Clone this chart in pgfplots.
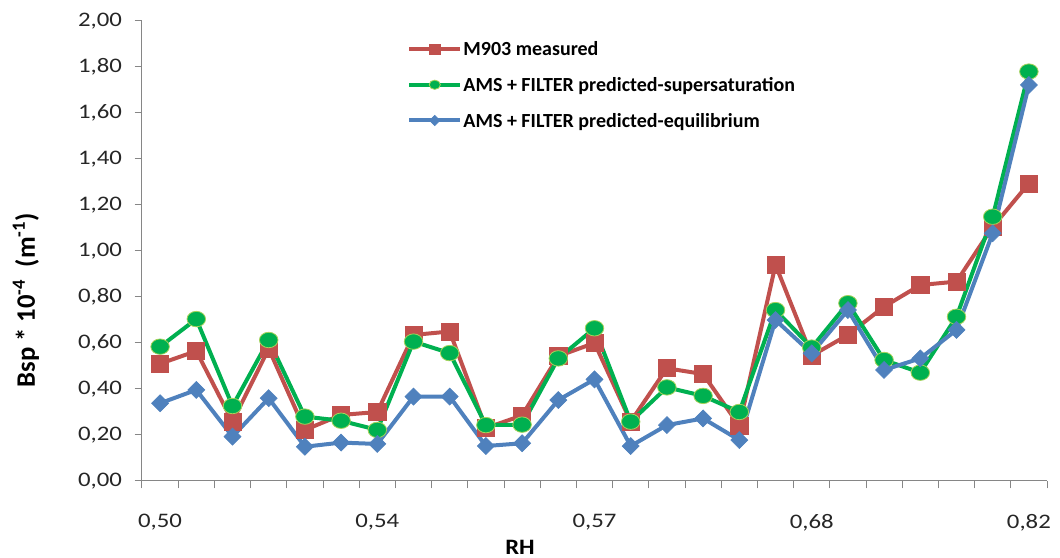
\documentclass[border=0pt]{standalone}
\usepackage{pgfplots}
\usepackage{pgfplotstable}
\pgfplotsset{compat=1.18}
\usepackage{fontspec}
\setmainfont{Carlito}
\newfontfamily\tickfont{Carlito}[FakeStretch=1.2]
\newfontfamily\labfont{Carlito}[FakeStretch=1.12]
\definecolor{cred}{HTML}{C0504D}
\definecolor{cgreen}{HTML}{00B050}
\definecolor{cgedge}{HTML}{A6D25A}
\definecolor{cblue}{HTML}{4F81BD}
\definecolor{caxis}{HTML}{868686}

\pgfplotstableread{
x red green blue
0  0.510 0.584 0.338
1  0.565 0.704 0.396
2  0.258 0.326 0.193
3  0.575 0.613 0.360
4  0.222 0.280 0.149
5  0.287 0.262 0.167
6  0.300 0.222 0.161
7  0.635 0.606 0.367
8  0.650 0.556 0.367
9  0.230 0.243 0.152
10 0.285 0.245 0.164
11 0.543 0.533 0.352
12 0.600 0.664 0.442
13 0.258 0.258 0.152
14 0.490 0.407 0.243
15 0.465 0.370 0.272
16 0.240 0.300 0.178
17 0.940 0.743 0.700
18 0.545 0.580 0.555
19 0.635 0.773 0.743
20 0.758 0.526 0.483
21 0.852 0.471 0.533
22 0.867 0.714 0.657
23 1.105 1.149 1.077
24 1.294 1.780 1.722
}\datatable

\begin{document}
\begin{tikzpicture}
\begin{axis}[
  scale only axis, width=678.75pt, height=345pt,
  xmin=-0.5, xmax=24.5, ymin=0, ymax=2,
  axis x line*=bottom, axis y line*=left,
  axis line style={caxis, line width=0.75pt},
  tick style={caxis, line width=0.75pt},
  tick align=outside,
  major tick length=5.5pt, minor tick length=5.5pt,
  xtick={0,6,12,18,24},
  xticklabels={{0,50},{0,54},{0,57},{0,68},{0,82}},
  major x tick style={draw=none},
  minor xtick={-0.5,0.5,1.5,2.5,3.5,4.5,5.5,6.5,7.5,8.5,9.5,10.5,11.5,12.5,13.5,14.5,15.5,16.5,17.5,18.5,19.5,20.5,21.5,22.5,23.5,24.5},
  ytick={0,0.2,0.4,0.6,0.8,1.0,1.2,1.4,1.6,1.8,2.0},
  yticklabel style={xshift=-6pt, /pgf/number format/.cd, fixed, fixed zerofill, precision=2, use comma},
  /pgf/number format/assume math mode=true,
  tick label style={font=\tickfont\fontsize{15.5pt}{18pt}\selectfont, text=black!85},
  xticklabel style={yshift=-15.75pt},
  every axis x label/.style={at={(rel axis cs:0.4177,0)}, yshift=-49.5pt, anchor=center},
  every axis y label/.style={at={(rel axis cs:0,0.393)}, xshift=-87pt, rotate=90, anchor=center},
  xlabel={\labfont\bfseries\fontsize{16.5pt}{19pt}\selectfont RH},
  ylabel={\bfseries\fontsize{20pt}{23pt}\selectfont Bsp * 10\textsuperscript{-4}\ \ (m\textsuperscript{-1})},
  legend style={at={(rel axis cs:0.293,0.962)}, anchor=north west, draw=none, fill=none,
    inner sep=0pt, row sep=11.4pt,
    font=\bfseries\fontsize{15pt}{17pt}\selectfont,
    nodes={inner sep=1pt}},
  legend cell align=left,
  legend image code/.code={\draw[mark repeat=2, mark phase=2, #1, /tikz/every mark/.append style={scale=0.6}] plot coordinates {(0pt,0pt) (19pt,0pt) (38pt,0pt)};},
  clip=false,
]
\addplot[cred, line width=3pt, mark=square*, mark size=6.4pt, mark options={fill=cred, draw=cred, line width=0.5pt}]
  table[x=x, y=red]{\datatable};
\addlegendentry{\strut M903 measured}
\addplot[cgreen, line width=3pt, mark=*, mark size=5.8pt, mark options={fill=cgreen, draw=cgedge, line width=0.6pt, xscale=1.2}]
  table[x=x, y=green]{\datatable};
\addlegendentry{\strut AMS + FILTER predicted-supersaturation}
\addplot[cblue, line width=3pt, mark=square*, mark size=4.5pt, mark options={fill=cblue, draw=cblue, line width=0.5pt, rotate=45}]
  table[x=x, y=blue]{\datatable};
\addlegendentry{\strut AMS + FILTER predicted-equilibrium}
\coordinate (SW) at (rel axis cs:0,0);
\coordinate (NE) at (rel axis cs:1,1);
\end{axis}
\pgfresetboundingbox
\path ([shift={(-106.5pt,-57.75pt)}]SW) rectangle ([shift={(9.75pt,15.75pt)}]NE);
\end{tikzpicture}
\end{document}
